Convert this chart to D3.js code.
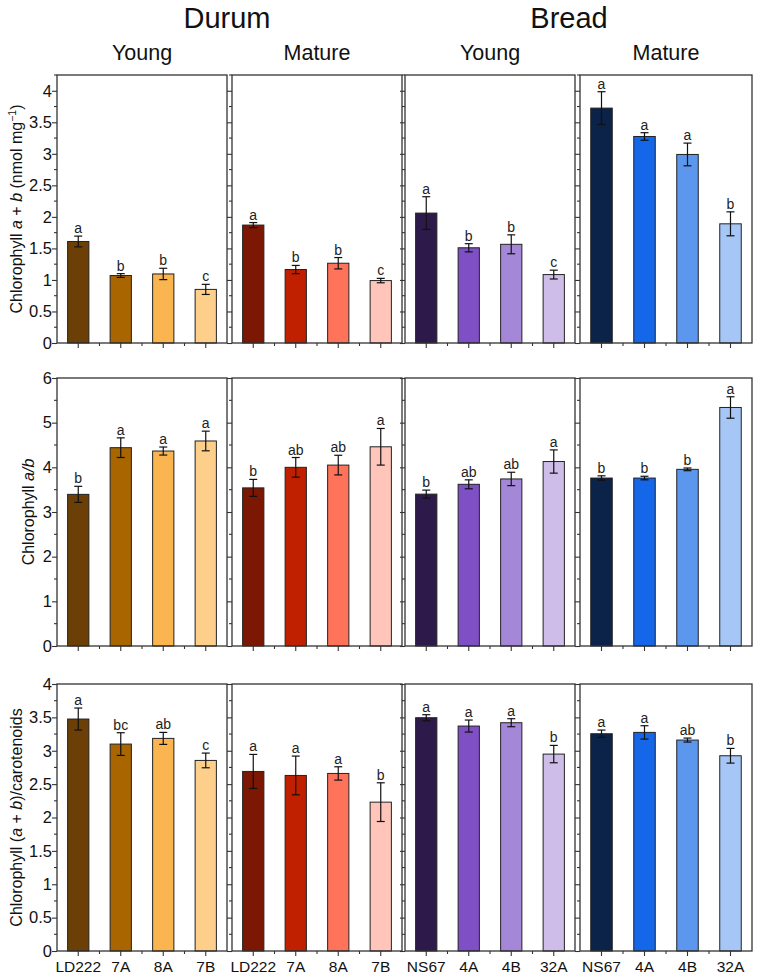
<!DOCTYPE html>
<html>
<head>
<meta charset="utf-8">
<script src="https://cdn.jsdelivr.net/npm/d3@7"></script>
<style>
  body { margin: 0; background: #fff; }
  svg { font-family: "Liberation Sans", Arial, sans-serif; }
</style>
</head>
<body>
<svg id="chart" width="763" height="980"></svg>
<script>
// cultivars / lines
const durumLines = ["LD222", "7A", "8A", "7B"];
const breadLines = ["NS67", "4A", "4B", "32A"];
const panelLines = [durumLines, durumLines, breadLines, breadLines];
const wheatTypes = ["Durum", "Bread"];
const stages = ["Young", "Mature", "Young", "Mature"];

const panelColors = [
  ["#6b3f05", "#a86500", "#fab551", "#fdcf8b"],
  ["#7b1703", "#c01f00", "#ff735a", "#ffc5ba"],
  ["#2d1a4b", "#7e4fc5", "#a587d7", "#cebde9"],
  ["#0b2249", "#1567e9", "#5b98ed", "#a6c7f6"]
];

// chlorophyll a+b (nmol mg-1)
const chlAB = [[1.61, 1.07, 1.095, 0.85], [1.87, 1.165, 1.265, 0.99], [2.06, 1.51, 1.565, 1.085], [3.725, 3.275, 2.99, 1.89]];
const chlABErr = [[0.085, 0.03, 0.09, 0.08], [0.04, 0.065, 0.09, 0.035], [0.26, 0.065, 0.15, 0.07], [0.26, 0.06, 0.18, 0.19]];
const chlABLetters = [["a", "b", "b", "c"], ["a", "b", "b", "c"], ["a", "b", "b", "c"], ["a", "a", "a", "b"]];

// chlorophyll a/b
const ratioAB = [[3.395, 4.44, 4.365, 4.59], [3.54, 4.0, 4.05, 4.46], [3.40, 3.62, 3.74, 4.13], [3.76, 3.76, 3.955, 5.34]];
const ratioABErr = [[0.18, 0.22, 0.09, 0.22], [0.19, 0.22, 0.22, 0.41], [0.09, 0.1, 0.15, 0.26], [0.05, 0.04, 0.03, 0.24]];
const ratioABLetters = [["b", "a", "a", "a"], ["b", "ab", "ab", "a"], ["b", "ab", "ab", "a"], ["b", "b", "b", "a"]];

// chlorophyll (a+b)/carotenoids
const chlCar = [[3.475, 3.10, 3.185, 2.855], [2.69, 2.63, 2.66, 2.23], [3.495, 3.37, 3.42, 2.95], [3.255, 3.275, 3.16, 2.925]];
const chlCarErr = [[0.165, 0.17, 0.09, 0.11], [0.255, 0.29, 0.1, 0.29], [0.045, 0.09, 0.06, 0.13], [0.055, 0.1, 0.03, 0.11]];
const chlCarLetters = [["a", "bc", "ab", "c"], ["a", "a", "a", "b"], ["a", "a", "a", "b"], ["a", "a", "ab", "b"]];

const yTicks1 = [0, 0.5, 1, 1.5, 2, 2.5, 3, 3.5, 4];
const yTicks2 = [0, 1, 2, 3, 4, 5, 6];
const yTicks3 = [0, 0.5, 1, 1.5, 2, 2.5, 3, 3.5, 4];

const svg = d3.select("#chart");

// layout
const panelX = [[57, 227], [232, 402], [405, 575], [580, 752]];
const rows = [
  { top: 75, bottom: 343, max: 4.25, vals: chlAB, errs: chlABErr, letters: chlABLetters, ticks: yTicks1, minor: 0.25, titleX: 16,
    title: [["Chlorophyll ", false], ["a", true], [" + ", false], ["b", true], [" (nmol mg", false], ["−1", false, true], [")", false]] },
  { top: 378, bottom: 646, max: 6, vals: ratioAB, errs: ratioABErr, letters: ratioABLetters, ticks: yTicks2, minor: 0.5, titleX: 28,
    title: [["Chlorophyll ", false], ["a/b", true]] },
  { top: 684, bottom: 951, max: 4, vals: chlCar, errs: chlCarErr, letters: chlCarLetters, ticks: yTicks3, minor: 0.25, titleX: 16,
    title: [["Chlorophyll (", false], ["a", true], [" + ", false], ["b", true], [")/carotenoids", false]] }
];

// headers
svg.append("text").attr("x", 227).attr("y", 28).attr("text-anchor", "middle")
  .attr("font-size", 29).attr("fill", "#111").text(wheatTypes[0]);
svg.append("text").attr("x", 569).attr("y", 28).attr("text-anchor", "middle")
  .attr("font-size", 29).attr("fill", "#111").text(wheatTypes[1]);
stages.forEach((s, i) => {
  svg.append("text").attr("x", (panelX[i][0] + panelX[i][1]) / 2).attr("y", 60)
    .attr("text-anchor", "middle").attr("font-size", 21.5).attr("fill", "#111").text(s);
});

rows.forEach((row, r) => {
  const y = d3.scaleLinear().domain([0, row.max]).range([row.bottom, row.top]);
  const minorTicks = d3.range(0, row.max + 1e-9, row.minor).filter(v => !row.ticks.some(t => Math.abs(t - v) < 1e-9));

  panelX.forEach((px, p) => {
    const x = d3.scaleBand().domain(panelLines[p]).range(px).paddingInner(0.5).paddingOuter(0.25);
    const g = svg.append("g");

    // y axis (left, outward ticks)
    const yAxis = g.append("g").attr("transform", `translate(${px[0]},0)`)
      .call(d3.axisLeft(y).tickValues(row.ticks).tickSize(5).tickSizeOuter(0)
        .tickFormat(p == 0 ? d3.format("") : ""));
    yAxis.select(".domain").remove();
    yAxis.selectAll("line").attr("stroke", "#333").attr("stroke-width", 1.1);
    yAxis.selectAll("text").attr("font-size", 16.5).attr("fill", "#111").attr("x", -5)
      .attr("font-family", "Liberation Sans, Arial, sans-serif");
    g.append("g").attr("transform", `translate(${px[0]},0)`)
      .selectAll("line").data(minorTicks).join("line")
      .attr("x1", -3).attr("x2", 0).attr("y1", d => y(d)).attr("y2", d => y(d))
      .attr("stroke", "#333").attr("stroke-width", 1.1);

    // x axis ticks
    const bounds = panelLines[p].slice(1).map(c => x(c) - x.step() * x.paddingInner() / 2);
    const xAxis = g.append("g").attr("transform", `translate(0,${row.bottom})`)
      .call(d3.axisBottom(x).tickSize(5).tickSizeOuter(0).tickFormat(r == 2 ? null : ""));
    xAxis.select(".domain").remove();
    xAxis.selectAll("line").attr("stroke", "#333").attr("stroke-width", 1.1);
    xAxis.selectAll("text").attr("font-size", 15.5).attr("fill", "#111").attr("dy", "0.85em")
      .attr("font-family", "Liberation Sans, Arial, sans-serif");
    g.append("g").selectAll("line").data(bounds).join("line")
      .attr("x1", d => d).attr("x2", d => d).attr("y1", row.bottom).attr("y2", row.bottom + 3)
      .attr("stroke", "#333").attr("stroke-width", 1.1);

    // bars
    const vals = row.vals[p], errs = row.errs[p], lets = row.letters[p];
    g.append("g").selectAll("rect").data(panelLines[p]).join("rect")
      .attr("x", d => x(d)).attr("width", x.bandwidth())
      .attr("y", (d, i) => y(vals[i])).attr("height", (d, i) => row.bottom - y(vals[i]))
      .attr("fill", (d, i) => panelColors[p][i]).attr("stroke", "#222").attr("stroke-width", 1);

    // error bars
    const eb = g.append("g").attr("stroke", "#111").attr("stroke-width", 1.2);
    panelLines[p].forEach((c, i) => {
      const cx = x(c) + x.bandwidth() / 2;
      const y1 = y(vals[i] + errs[i]), y0 = y(vals[i] - errs[i]);
      eb.append("line").attr("x1", cx).attr("x2", cx).attr("y1", y1).attr("y2", y0);
      eb.append("line").attr("x1", cx - 4).attr("x2", cx + 4).attr("y1", y1).attr("y2", y1);
      eb.append("line").attr("x1", cx - 4).attr("x2", cx + 4).attr("y1", y0).attr("y2", y0);
    });

    // letters
    g.append("g").selectAll("text").data(panelLines[p]).join("text")
      .attr("x", d => x(d) + x.bandwidth() / 2)
      .attr("y", (d, i) => y(vals[i] + errs[i]) - 3)
      .attr("text-anchor", "middle").attr("font-size", 14).attr("fill", "#222")
      .text((d, i) => lets[i]);

    // frame
    g.append("rect").attr("x", px[0]).attr("y", row.top)
      .attr("width", px[1] - px[0]).attr("height", row.bottom - row.top)
      .attr("fill", "none").attr("stroke", "#333").attr("stroke-width", 1.3);
  });

  // y title
  const cy = (row.top + row.bottom) / 2;
  const t = svg.append("text").attr("transform", `translate(${row.titleX},${cy}) rotate(-90)`)
    .attr("text-anchor", "middle").attr("font-size", 16).attr("fill", "#111").attr("dy", "0.35em");
  row.title.forEach(([s, it, sup]) => {
    const ts = t.append("tspan").text(s);
    if (it) ts.attr("font-style", "italic");
    if (sup) ts.attr("font-size", 10.5).attr("baseline-shift", "super");
  });
});
</script>
</body>
</html>
